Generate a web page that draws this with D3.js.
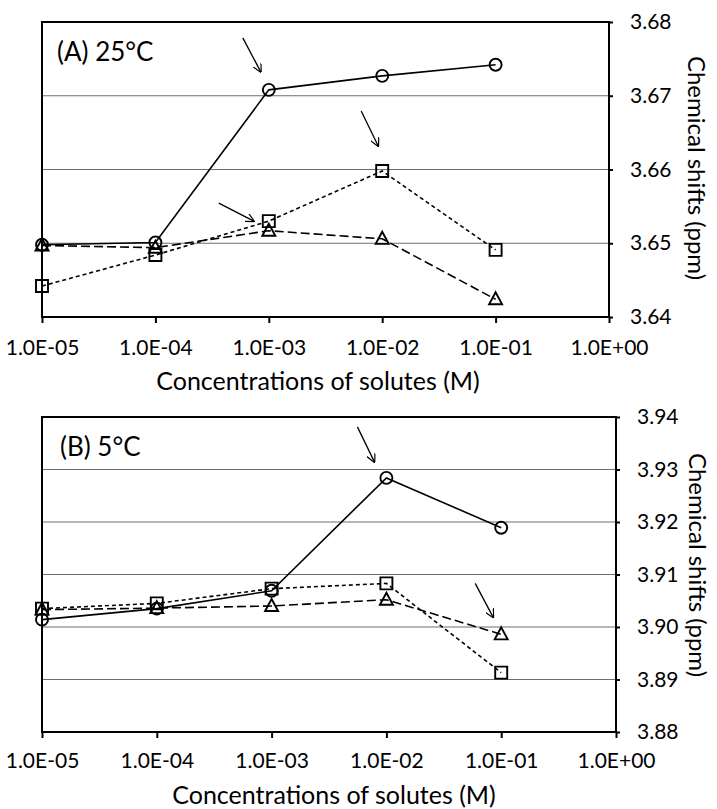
<!DOCTYPE html>
<meta charset="utf-8">
<script src="https://d3js.org/d3.v7.min.js"></script>
<style>
  body { margin: 0; background: #fff; }
  text { font-family: Lato, "Open Sans", sans-serif; fill: #000; }
</style>
<div id="my_dataviz"></div>
<script>

// concentrations (M) and tick labels
var conc = [1e-5, 1e-4, 1e-3, 1e-2, 1e-1];
var xTicks = [1e-5, 1e-4, 1e-3, 1e-2, 1e-1, 1];
var xTickLabels = ["1.0E-05", "1.0E-04", "1.0E-03", "1.0E-02", "1.0E-01", "1.0E+00"];

// (A) 25°C chemical shifts (ppm)
var circleA   = [3.6498, 3.6501, 3.6708, 3.6727, 3.6742];
var squareA   = [3.6442, 3.6484, 3.6530, 3.6598, 3.6491];
var triangleA = [3.6497, 3.6494, 3.6517, 3.6506, 3.6424];
var yTicksA = [3.64, 3.65, 3.66, 3.67, 3.68];

// (B) 5°C chemical shifts (ppm)
var circleB   = [3.9014, 3.9035, 3.9069, 3.9284, 3.9189];
var squareB   = [3.9035, 3.9045, 3.9073, 3.9083, 3.8913];
var triangleB = [3.9033, 3.9036, 3.9040, 3.9052, 3.8986];
var yTicksB = [3.88, 3.89, 3.90, 3.91, 3.92, 3.93, 3.94];

var W = 717, H = 809;
var svg = d3.select("#my_dataviz").append("svg")
    .attr("width", W).attr("height", H);

// arrows: target point (series, index) + pixel offsets from it
var arrowsA = [
  {s: "circle", i: 2, d: [-26, -52, -8, -18]},
  {s: "square", i: 3, d: [-21, -60, -4, -25]},
  {s: "square", i: 2, d: [-50, -18, -15, 0]}
];
var arrowsB = [
  {s: "circle", i: 3, d: [-29, -51, -12, -16]},
  {s: "triangle", i: 4, d: [-26, -51, -8, -17]}
];

svg.append("defs").append("marker")
    .attr("id", "head")
    .attr("viewBox", "0 0 10 10")
    .attr("refX", 9).attr("refY", 5)
    .attr("markerWidth", 9).attr("markerHeight", 9)
    .attr("markerUnits", "userSpaceOnUse")
    .attr("orient", "auto")
  .append("path")
    .attr("d", "M0,0 L10,5 L0,10")
    .attr("fill", "none").attr("stroke", "#000").attr("stroke-width", 1.3);

function panel(opt) {
  var g = svg.append("g");
  var x = d3.scaleLog().domain([1e-5, 1]).range([opt.left, opt.right]);
  var y = d3.scaleLinear().domain(opt.yDomain).range([opt.bottom, opt.top]);

  // grid lines
  g.append("g")
    .selectAll("line")
    .data(opt.yTicks)
    .enter().append("line")
      .attr("x1", opt.left).attr("x2", opt.right)
      .attr("y1", function(d) { return y(d); })
      .attr("y2", function(d) { return y(d); })
      .style("stroke", "#6e6e6e")
      .style("stroke-width", 1.2);

  // frame
  g.append("rect")
    .attr("x", opt.left).attr("y", opt.top)
    .attr("width", opt.right - opt.left).attr("height", opt.bottom - opt.top)
    .style("fill", "none").style("stroke", "#000").style("stroke-width", 2);

  // x axis
  var xa = g.append("g")
    .attr("transform", "translate(0," + opt.bottom + ")")
    .call(d3.axisBottom(x).tickValues(xTicks)
      .tickFormat(function(d, i) { return xTickLabels[i]; })
      .tickSize(6).tickPadding(opt.xPad));
  xa.select(".domain").remove();
  xa.selectAll("line").style("stroke", "#000").style("stroke-width", 2);
  xa.selectAll("text").style("font-size", "21px").style("font-family", "Lato");

  // y axis on the right
  var ya = g.append("g")
    .attr("transform", "translate(" + opt.right + ",0)")
    .call(d3.axisRight(y).tickValues(opt.yTicks)
      .tickFormat(d3.format(".2f"))
      .tickSize(4).tickPadding(17));
  ya.select(".domain").remove();
  ya.selectAll("line").style("stroke", "#000").style("stroke-width", 2);
  ya.selectAll("text").style("font-size", "21px").style("font-family", "Lato");

  // series
  var series = [
    {name: "circle", v: opt.circle, dash: null},
    {name: "square", v: opt.square, dash: "4,3"},
    {name: "triangle", v: opt.triangle, dash: "9,4"}
  ];
  var line = d3.line()
    .x(function(d, i) { return x(conc[i]); })
    .y(function(d) { return y(d); });

  series.forEach(function(s) {
    g.append("path")
      .datum(s.v)
      .attr("d", line)
      .style("fill", "none")
      .style("stroke", "#000")
      .style("stroke-width", 1.6)
      .style("stroke-dasharray", s.dash);
  });

  series.forEach(function(s) {
    var pts = g.append("g").selectAll("path")
      .data(s.v).enter().append("path")
      .attr("transform", function(d, i) { return "translate(" + x(conc[i]) + "," + y(d) + ")"; })
      .style("fill", "none")
      .style("stroke", "#000")
      .style("stroke-width", 1.9);
    if (s.name == "circle") pts.attr("d", "M6,0 A6,6 0 1,1 -6,0 A6,6 0 1,1 6,0");
    if (s.name == "square") pts.attr("d", "M-6,-6 H6 V6 H-6 Z");
    if (s.name == "triangle") pts.attr("d", "M0,-7 L6.5,5 L-6.5,5 Z");
  });

  // arrows
  var lookup = {circle: opt.circle, square: opt.square, triangle: opt.triangle};
  opt.arrows.forEach(function(a) {
    var px = x(conc[a.i]), py = y(lookup[a.s][a.i]);
    g.append("line")
      .attr("x1", px + a.d[0]).attr("y1", py + a.d[1])
      .attr("x2", px + a.d[2]).attr("y2", py + a.d[3])
      .style("stroke", "#000").style("stroke-width", 1.3)
      .attr("marker-end", "url(#head)");
  });

  // labels
  g.append("text")
    .attr("x", opt.left + opt.labelDx).attr("y", opt.top + 39)
    .style("font-size", "26px")
    .text(opt.label);

  g.append("text")
    .attr("x", opt.titleX).attr("y", opt.titleY)
    .attr("text-anchor", "middle")
    .style("font-size", "25px")
    .text("Concentrations of solutes (M)");

  g.append("text")
    .attr("transform", "translate(" + opt.yTitleX + "," + opt.yTitleY + ") rotate(90)")
    .attr("text-anchor", "middle")
    .style("font-size", "24px")
    .text("Chemical shifts (ppm)");
}

panel({
  left: 42, right: 609, top: 22, bottom: 317,
  yDomain: [3.64, 3.68], yTicks: yTicksA,
  circle: circleA, square: squareA, triangle: triangleA,
  arrows: arrowsA, xPad: 17,
  label: "(A) 25°C", labelDx: 15,
  titleX: 318, titleY: 390,
  yTitleX: 688, yTitleY: 168
});

panel({
  left: 42, right: 616, top: 417, bottom: 732,
  yDomain: [3.88, 3.94], yTicks: yTicksB,
  circle: circleB, square: squareB, triangle: triangleB,
  arrows: arrowsB, xPad: 15,
  label: "(B) 5°C", labelDx: 18,
  titleX: 334, titleY: 804,
  yTitleX: 689, yTitleY: 565
});

</script>
